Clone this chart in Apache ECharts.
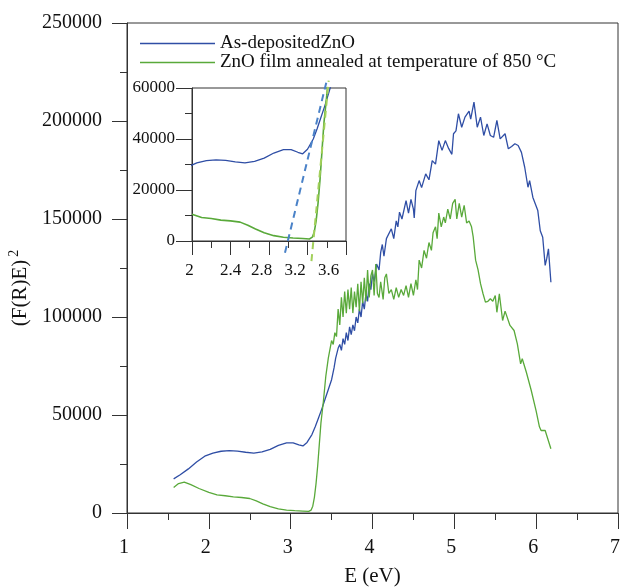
<!DOCTYPE html>
<html>
<head>
<meta charset="utf-8">
<script src="https://cdn.jsdelivr.net/npm/echarts@6/dist/echarts.min.js"></script>
<style>
  html, body { margin: 0; padding: 0; background: #fff; }
  #chart { width: 621px; height: 587px; }
</style>
</head>
<body>
<div id="chart"></div>
<script>
// As-deposited ZnO: photon energy (eV) and (F(R)E)^2
const asDepE = [1.57, 1.65, 1.75, 1.85, 1.95, 2.05, 2.15, 2.25, 2.35, 2.45, 2.55, 2.65, 2.75, 2.85, 2.95, 3.03, 3.1, 3.15, 3.2, 3.26,
  3.3, 3.34, 3.38, 3.42, 3.46, 3.5, 3.53, 3.55, 3.58, 3.6, 3.62, 3.64, 3.66, 3.68, 3.7, 3.72, 3.74, 3.76, 3.78, 3.8,
  3.82, 3.84, 3.86, 3.88, 3.9, 3.92, 3.94, 3.96, 3.98, 4.0, 4.02, 4.05, 4.08, 4.1, 4.12, 4.14, 4.17, 4.19, 4.23, 4.26,
  4.29, 4.31, 4.33, 4.36, 4.41, 4.44, 4.47, 4.5, 4.51, 4.53, 4.57, 4.6, 4.65, 4.69, 4.73, 4.77, 4.79, 4.81, 4.85, 4.89,
  4.93, 4.97, 4.99, 5.02, 5.05, 5.09, 5.13, 5.18, 5.2, 5.24, 5.28, 5.32, 5.36, 5.4, 5.44, 5.48, 5.52, 5.56, 5.62, 5.66,
  5.7, 5.74, 5.78, 5.82, 5.86, 5.9, 5.92, 5.96, 6.02, 6.05, 6.08, 6.11, 6.13, 6.15, 6.18]
const asDepF = [17400, 19500, 22500, 26000, 29000, 30600, 31500, 31800, 31600, 31000, 30600, 31200, 32500, 34500, 35800, 35800, 34800, 34200, 36000, 40000,
  44000, 48500, 53000, 58000, 63000, 68000, 74000, 79000, 84000, 86000, 83000, 89000, 86000, 92000, 88000, 95000, 91000, 96000, 93000, 100000,
  97000, 104000, 100000, 108000, 104000, 112000, 108000, 117000, 114000, 122000, 118000, 127000, 124000, 133000, 137000, 131000, 140000, 141000, 145000, 140000,
  149000, 146000, 153500, 150000, 159400, 153000, 160000, 155000, 150500, 164500, 169600, 166000, 173000, 170000, 179800, 178000, 184000, 190000, 185000, 190000,
  186000, 183000, 193500, 195000, 203700, 196800, 202000, 205000, 201000, 209600, 196800, 202000, 192600, 198500, 192600, 191700, 200300, 190900, 193500, 185800,
  187000, 188400, 187500, 184000, 176400, 166200, 169600, 161000, 154300, 144000, 140700, 126300, 130000, 134800, 117700]

// ZnO film annealed at 850 °C
const annE = [1.57, 1.63, 1.7, 1.78, 1.88, 2.0, 2.1, 2.2, 2.3, 2.4, 2.5, 2.58, 2.66, 2.75, 2.85, 2.95, 3.05, 3.15, 3.22, 3.25,
  3.27, 3.29, 3.31, 3.33, 3.35, 3.37, 3.4, 3.43, 3.46, 3.48, 3.5, 3.52, 3.54, 3.56, 3.58, 3.6, 3.62, 3.64, 3.66, 3.68,
  3.7, 3.72, 3.74, 3.76, 3.78, 3.8, 3.82, 3.84, 3.86, 3.88, 3.9, 3.92, 3.94, 3.96, 3.98, 4.0, 4.02, 4.04, 4.06, 4.08,
  4.1, 4.13, 4.15, 4.17, 4.2, 4.23, 4.26, 4.29, 4.32, 4.35, 4.38, 4.41, 4.44, 4.47, 4.5, 4.53, 4.55, 4.57, 4.6, 4.63,
  4.66, 4.69, 4.72, 4.74, 4.77, 4.79, 4.81, 4.84, 4.87, 4.89, 4.92, 4.95, 4.98, 5.01, 5.03, 5.06, 5.09, 5.12, 5.15, 5.18,
  5.21, 5.23, 5.26, 5.29, 5.32, 5.35, 5.38, 5.41, 5.44, 5.47, 5.5, 5.52, 5.55, 5.59, 5.62, 5.64, 5.68, 5.73, 5.77, 5.81,
  5.83, 5.88, 5.94, 6.0, 6.04, 6.06, 6.11, 6.18]
const annF = [13000, 15000, 15800, 14500, 12500, 10500, 9200, 8800, 8200, 7900, 7400, 6200, 4700, 3200, 2100, 1500, 1200, 1000, 800, 1500,
  3500, 8000, 15000, 24000, 35000, 46000, 57000, 70000, 79000, 80000, 88000, 86000, 92000, 90000, 104000, 96000, 110000, 100000, 113000, 102000,
  114000, 104000, 115000, 102000, 113000, 105000, 117000, 103000, 118000, 107000, 120000, 108000, 124000, 110000, 121000, 124000, 111000, 127000, 112000, 110000,
  118000, 109000, 120000, 122000, 112000, 114000, 109000, 115000, 110000, 114000, 111000, 116000, 110000, 117000, 111000, 119000, 114000, 129000, 125000, 134000,
  130000, 138000, 134000, 143000, 146000, 140000, 153000, 146000, 151000, 148000, 155000, 150000, 158000, 160000, 150000, 158000, 151000, 157000, 148000, 149000,
  146000, 141000, 129000, 124000, 117000, 112000, 107600, 108000, 109300, 108000, 111000, 102400, 111800, 98200, 103000, 102400, 95700, 93100, 86300, 76100,
  78700, 71800, 62500, 52000, 44000, 42100, 42100, 32800]

// Tangent (Tauc) lines drawn in the inset
const asDepFitE = [2.966, 3.40]
const asDepFitF = [-4600, 62900]
const annFitE = [3.241, 3.42]
const annFitF = [-7860, 62900]

// inset tick labels sit a little left of their ticks in the original
const insetLabelShift = { 2: 5, 2.4: 0, 2.8: 15, 3.2: 25, 3.6: 35 }

const BLUE = '#2f4ea5'
const GREEN = '#59a93a'
const FONT = 'Liberation Serif'
const AX = '#333'

const zip = (xs, ys) => xs.map((x, i) => [x, ys[i]])
const asDep = zip(asDepE, asDepF)
const ann = zip(annE, annF)
const insetPart = d => d.filter(p => p[0] >= 1.95 && p[0] <= 3.5)

const axisCommon = (fs, tick, margin) => ({
  axisLine: { show: true, lineStyle: { color: AX, width: 1 } },
  axisTick: { show: true, length: tick, lineStyle: { color: AX } },
  minorTick: { show: true, splitNumber: 2, length: 7, lineStyle: { color: AX } },
  splitLine: { show: false },
  axisLabel: { color: '#111', fontFamily: FONT, fontSize: fs, margin: margin, formatter: v => String(v) }
})

const mainX = axisCommon(20, 16, 25)
mainX.axisLabel.padding = [0, 6, 0, 0]
const insetX = axisCommon(17, 14, 21)
insetX.axisLabel.formatter = v => {
  const k = Math.round(v * 10) / 10
  return '{p' + String(insetLabelShift[k] || 0) + '|' + k + '}'
}
insetX.axisLabel.rich = {}
Object.values(insetLabelShift).forEach(s => {
  insetX.axisLabel.rich['p' + s] = { fontFamily: FONT, fontSize: 17, color: '#111', padding: [0, s, 0, 0] }
})

const chart = echarts.init(document.getElementById('chart'))
chart.setOption({
  animation: false,
  legend: {
    data: ['As-depositedZnO', 'ZnO film annealed at temperature of 850 °C'],
    orient: 'vertical',
    left: 140,
    top: 34,
    padding: 0,
    icon: 'rect',
    itemWidth: 75,
    itemHeight: 1.5,
    itemGap: 0,
    textStyle: { fontFamily: FONT, fontSize: 19, lineHeight: 16, color: '#111' }
  },
  grid: [
    { left: 127, right: 3, top: 23, bottom: 74, outerBoundsMode: 'none', show: true, borderColor: AX, borderWidth: 1, backgroundColor: 'transparent' },
    { left: 192, right: 275, top: 88, bottom: 346, outerBoundsMode: 'none', show: true, borderColor: AX, borderWidth: 1, backgroundColor: 'transparent' }
  ],
  xAxis: [
    Object.assign(mainX, {
      type: 'value', gridIndex: 0, min: 1, max: 7, interval: 1,
      name: 'E (eV)', nameLocation: 'middle', nameGap: 53,
      nameTextStyle: { fontFamily: FONT, fontSize: 21, color: '#111' }
    }),
    Object.assign(insetX, {
      type: 'value', gridIndex: 1, min: 2, max: 3.6, interval: 0.4
    })
  ],
  yAxis: [
    Object.assign(axisCommon(20, 15, 25), {
      type: 'value', gridIndex: 0, min: 0, max: 250000, interval: 50000,
      name: '(F(R)E){sup|2}', nameLocation: 'middle', nameGap: 94, nameRotate: 90,
      nameTextStyle: {
        fontFamily: FONT, fontSize: 21, color: '#111', padding: [0, 40, 0, 0],
        rich: { sup: { fontFamily: FONT, fontSize: 14, verticalAlign: 'top', padding: [0, 0, 12, 3], color: '#111' } }
      }
    }),
    Object.assign(axisCommon(17, 16, 17), {
      type: 'value', gridIndex: 1, min: 0, max: 60000, interval: 20000
    })
  ],
  series: [
    {
      name: 'As-depositedZnO', type: 'line', xAxisIndex: 0, yAxisIndex: 0,
      data: asDep, symbol: 'none', lineStyle: { color: BLUE, width: 1.3 }, itemStyle: { color: BLUE }
    },
    {
      name: 'ZnO film annealed at temperature of 850 °C', type: 'line', xAxisIndex: 0, yAxisIndex: 0,
      data: ann, symbol: 'none', lineStyle: { color: GREEN, width: 1.3 }, itemStyle: { color: GREEN }
    },
    {
      name: 'As-depositedZnO', type: 'line', xAxisIndex: 1, yAxisIndex: 1,
      data: insetPart(asDep), symbol: 'none', lineStyle: { color: BLUE, width: 1.3 }, itemStyle: { color: BLUE }
    },
    {
      name: 'ZnO film annealed at temperature of 850 °C', type: 'line', xAxisIndex: 1, yAxisIndex: 1,
      data: insetPart(ann), symbol: 'none', lineStyle: { color: GREEN, width: 1.6 }, itemStyle: { color: GREEN }
    },
    {
      name: 'fitBlue', type: 'line', xAxisIndex: 1, yAxisIndex: 1, clip: false,
      data: zip(asDepFitE, asDepFitF), symbol: 'none',
      lineStyle: { color: '#4a82c8', width: 2, type: [7, 5] }
    },
    {
      name: 'fitGreen', type: 'line', xAxisIndex: 1, yAxisIndex: 1, clip: false,
      data: zip(annFitE, annFitF), symbol: 'none',
      lineStyle: { color: '#a2d05a', width: 2, type: [7, 5] }
    }
  ]
})
</script>
</body>
</html>
